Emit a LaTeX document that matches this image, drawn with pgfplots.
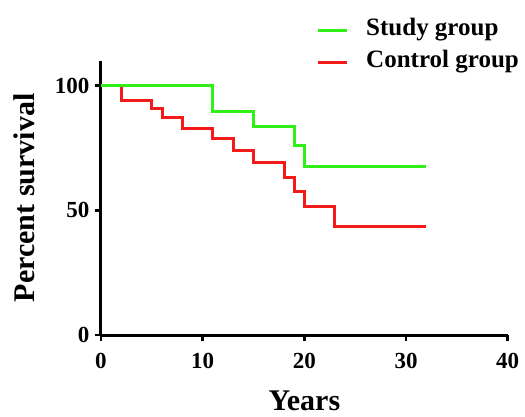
\documentclass[border=0pt]{standalone}
\usepackage{fontspec}
\setmainfont{Liberation Serif}
\usepackage{pgfplots}
\pgfplotsset{compat=1.18}
\definecolor{study}{HTML}{30F018}
\definecolor{ctrl}{HTML}{F41A1A}

\begin{document}
\begin{tikzpicture}
\begin{axis}[name=ax,
  scale only axis, width=406.7pt, height=274.3pt,
  xmin=0, xmax=40, ymin=0, ymax=110,
  xtick={0,10,...,40}, ytick={0,50,100},
  axis x line*=bottom, axis y line*=left,
  axis line style={line width=3pt, -},
  tick align=outside, major tick length=6pt,
  every tick/.style={black, line width=2.5pt},
  /pgf/number format/assume math mode=true,
  ticklabel style={font=\fontsize{23}{26}\selectfont\bfseries},
  xticklabel style={yshift=-9pt},
  yticklabel style={xshift=-2pt},
  xlabel={Years}, ylabel={Percent survival},
  label style={font=\fontsize{30}{34}\selectfont\bfseries, inner sep=0pt},
  xlabel style={at={(axis description cs:0.5,-0.277)}, anchor=base},
  ylabel style={at={(axis description cs:-0.162,0.5)}, anchor=south},
  legend style={at={(axis description cs:0.530,1.152)}, anchor=north west,
    draw=none, fill=none, inner sep=0pt, row sep=10pt,
    nodes={inner sep=0pt, text height=16pt, text depth=6pt,
      font=\fontsize{25}{27}\selectfont\bfseries}},
  legend cell align=left, reverse legend,
  legend image code/.code={\draw[#1, line width=3pt] (0pt,0pt) -- (29pt,0pt);
    \path[draw=none] (0pt,0pt) -- (48pt,0pt);},
]
% Kaplan-Meier steps
\addplot[ctrl, line width=3pt, const plot] coordinates {
  (0,100) (2,94.1) (5,91.0) (6,87.3) (8,82.9) (11,78.9) (13,74.1)
  (15,69.1) (18,63.0) (19,57.4) (20,51.5) (23,43.7) (32,43.7)};
\addlegendentry{Control group}
\addplot[study, line width=3pt, const plot] coordinates {
  (0,100) (11,89.5) (15,83.8) (19,75.8) (20,67.5) (32,67.5)};
\addlegendentry{Study group}
\end{axis}
\pgfresetboundingbox
\path[use as bounding box] (ax.south west) ++(-101pt,-81pt) rectangle ++(525pt,416pt);
\end{tikzpicture}
\end{document}
